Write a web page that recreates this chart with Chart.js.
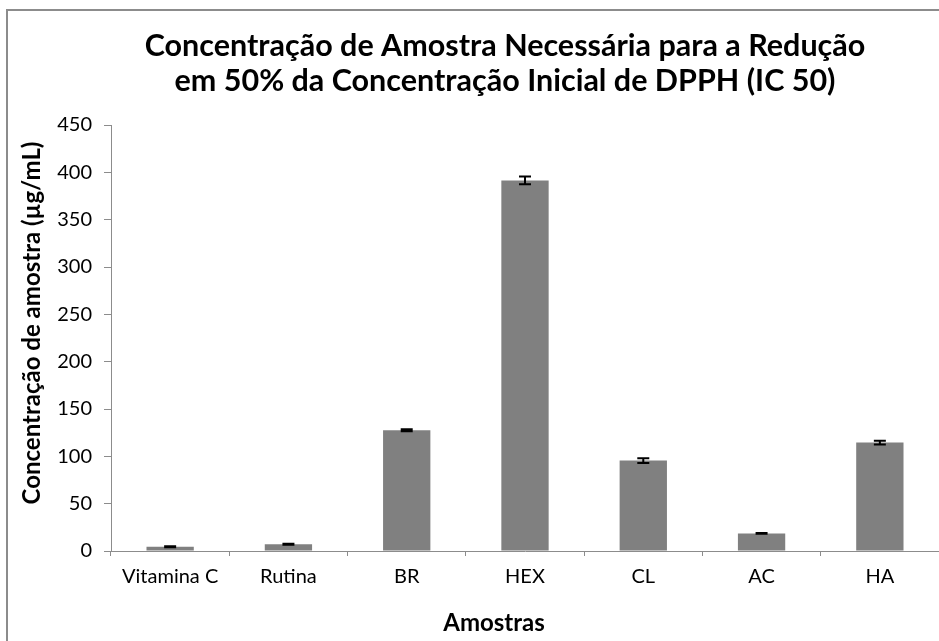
<!DOCTYPE html>
<html>
<head>
<meta charset="utf-8">
<script src="https://cdn.jsdelivr.net/npm/chart.js@4.4.1/dist/chart.umd.min.js"></script>
<style>
  html, body { margin: 0; padding: 0; background: #fff; overflow: hidden; }
  #frame { position: absolute; left: 6px; top: 9px; width: 1200px; height: 900px;
           border-top: 2px solid #8c8c8c; border-left: 2px solid #8c8c8c; }
  #wrap { position: absolute; left: 0; top: 0; width: 939px; height: 641px; }
</style>
</head>
<body>
<div id="frame"></div>
<div id="wrap"><canvas id="ic50Chart" width="939" height="641"></canvas></div>
<script>
// Chart data
const samples = ['Vitamina C', 'Rutina', 'BR', 'HEX', 'CL', 'AC', 'HA'];
const ic50Values = [4.4, 7.1, 127.5, 391.5, 95.5, 18.6, 114.5];
const ic50Errors = [0.5, 0.6, 1.0, 4.0, 2.5, 0.5, 2.0];
const yTicks = [0, 50, 100, 150, 200, 250, 300, 350, 400, 450];

const titleLines = ['Concentração de Amostra Necessária para a Redução', 'em 50% da Concentração Inicial de DPPH (IC 50)'];
const xTitle = 'Amostras';
const yTitle = 'Concentração de amostra (µg/mL)';

const FONT = 'Lato, "Open Sans", sans-serif';
const AXIS_GRAY = '#8c8c8c';

// error bars drawn from the bar elements + y scale
const errorBars = {
    id: 'errorBars',
    afterDatasetsDraw(chart) {
        const {ctx} = chart;
        const y = chart.scales.y;
        const meta = chart.getDatasetMeta(0);
        ctx.save();
        ctx.strokeStyle = '#000';
        ctx.lineWidth = 2;
        meta.data.forEach((bar, i) => {
            const v = ic50Values[i], e = ic50Errors[i];
            const yTop = y.getPixelForValue(v + e);
            const yBot = y.getPixelForValue(v - e);
            const half = 6;
            ctx.beginPath();
            ctx.moveTo(bar.x, yTop); ctx.lineTo(bar.x, yBot);
            ctx.moveTo(bar.x - half, yTop); ctx.lineTo(bar.x + half, yTop);
            ctx.moveTo(bar.x - half, yBot); ctx.lineTo(bar.x + half, yBot);
            ctx.stroke();
        });
        ctx.restore();
    }
};

// Excel places its titles a bit off the plot centre, so draw them by hand
const excelTitles = {
    id: 'excelTitles',
    afterDraw(chart) {
        const {ctx, chartArea} = chart;
        ctx.save();
        ctx.fillStyle = '#000';
        ctx.textAlign = 'center';
        ctx.textBaseline = 'middle';
        ctx.font = 'bold 30.5px ' + FONT;
        titleLines.forEach((t, i) => ctx.fillText(t, 505, 46 + i * 35));
        ctx.font = 'bold 24px ' + FONT;
        ctx.fillText(xTitle, chartArea.left + 383, 623);
        ctx.translate(32, 323);
        ctx.rotate(-Math.PI / 2);
        ctx.fillText(yTitle, 0, 0);
        ctx.restore();
    }
};

const ctx = document.getElementById('ic50Chart').getContext('2d');
new Chart(ctx, {
    type: 'bar',
    data: {
        labels: samples,
        datasets: [{
            data: ic50Values,
            backgroundColor: '#808080',
            borderWidth: 0,
            categoryPercentage: 1.0,
            barPercentage: 0.4
        }]
    },
    plugins: [errorBars, excelTitles],
    options: {
        responsive: false,
        animation: false,
        layout: { padding: { top: 125, right: 0, bottom: 0, left: 0 } },
        plugins: {
            legend: { display: false },
            title: { display: false },
            tooltip: { enabled: false }
        },
        scales: {
            x: {
                afterFit: s => { s.height = 90; },
                grid: { drawOnChartArea: false, offset: true, tickLength: 5, color: AXIS_GRAY },
                border: { color: AXIS_GRAY, width: 1 },
                ticks: { color: '#000', padding: 9, font: { family: FONT, size: 20 } }
            },
            y: {
                min: 0, max: 450,
                afterFit: s => { s.width = 111; },
                afterBuildTicks: s => { s.ticks = yTicks.map(v => ({ value: v })); },
                grid: { drawOnChartArea: false, tickLength: 7, color: AXIS_GRAY },
                border: { color: AXIS_GRAY, width: 1 },
                ticks: { color: '#000', padding: 12, font: { family: FONT, size: 20 } }
            }
        }
    }
});
</script>
</body>
</html>
